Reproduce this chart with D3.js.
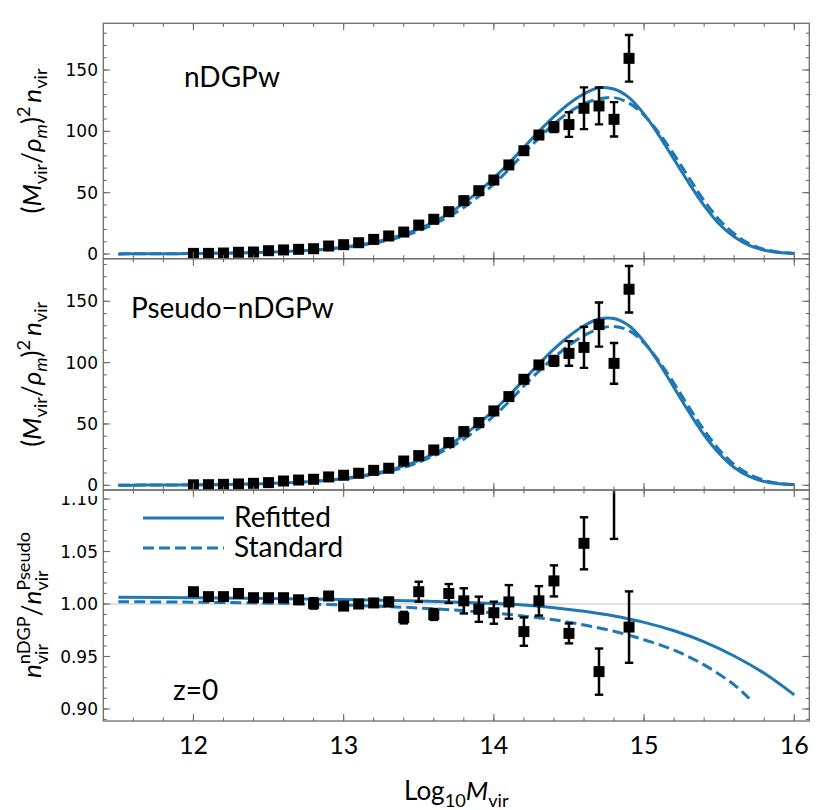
<!DOCTYPE html>
<html><head><meta charset="utf-8">
<script src="https://cdn.jsdelivr.net/npm/d3@7"></script>
<style>body{margin:0;background:#fff} text{font-family:Lato, "DejaVu Sans", sans-serif; fill:#000}</style>
</head><body><svg id="c" width="830" height="810"></svg>
<script>
// ---------------- data ----------------
const massBins = [12.0,12.1,12.2,12.3,12.4,12.5,12.6,12.7,12.8,12.9,13.0,13.1,13.2,13.3,13.4,13.5,13.6,13.7,13.8,13.9,14.0,14.1,14.2,14.3,14.4,14.5,14.6,14.7,14.8,14.9];
const topPoints = [0.5,0.5,0.8,1.4,1.6,2.7,3.3,3.8,4.3,6.5,7.6,9.2,11.9,14.7,17.9,23.6,28.3,34.5,43.5,51.6,60.3,72.6,84.2,97.0,103.5,105.5,118.8,120.7,109.8,159.5];
const topErrors = [0.1,0.1,0.1,0.1,0.2,0.2,0.2,0.3,0.3,0.4,0.4,0.5,0.6,0.7,0.8,1.0,1.1,1.3,1.5,1.7,1.9,2.2,2.6,3.0,4.0,10.0,17.0,15.0,14.0,19.0];
const midPoints = [0.4,0.5,0.8,1.1,1.6,2.2,3.5,4.3,4.9,6.8,8.2,9.8,12.2,13.9,19.8,24.2,28.8,34.8,43.8,51.1,60.6,72.3,86.4,98.1,101.4,107.5,112.4,131.0,99.4,159.8];
const midErrors = [0.1,0.1,0.1,0.1,0.2,0.2,0.2,0.3,0.3,0.4,0.4,0.5,0.6,0.7,0.8,1.0,1.1,1.3,1.5,1.7,1.9,2.2,2.6,3.0,4.0,10.0,16.7,18.0,16.6,19.0];
const ratioPoints = [1.0117,1.007,1.007,1.010,1.006,1.006,1.006,1.004,1.0006,1.0076,0.998,1.000,1.001,1.002,0.987,1.0117,0.990,1.010,1.003,0.995,0.9917,1.002,0.9737,1.003,1.022,0.972,1.0578,0.9356,1.12,0.978];
const ratioErrors = [0.002,0.002,0.002,0.002,0.002,0.002,0.003,0.003,0.005,0.003,0.003,0.003,0.003,0.004,0.0055,0.0095,0.0052,0.009,0.012,0.012,0.0105,0.016,0.0135,0.014,0.0148,0.0095,0.0248,0.022,0.058,0.034];

const curveX = [11.5,11.6,11.7,11.8,11.9,12.0,12.1,12.2,12.3,12.4,12.5,12.6,12.7,12.8,12.9,13.0,13.1,13.2,13.3,13.4,13.5,13.6,13.7,13.8,13.9,14.0,14.1,14.2,14.3,14.4,14.5,14.6,14.7,14.8,14.9,15.0,15.1,15.2,15.3,15.4,15.5,15.6,15.7,15.8,15.9,16.0];
const topRefitted = [0.10,0.14,0.18,0.23,0.30,0.40,0.52,0.68,0.90,1.15,1.50,1.95,2.55,3.30,4.30,5.60,7.30,9.50,12.4,16.0,20.5,26.0,33.0,41.5,51.0,62.0,74.0,87.0,100.0,112.0,122.5,130.5,135.5,134.5,127.5,114.0,96.5,77.0,57.5,39.5,24.5,14.0,7.0,3.0,1.2,0.4];
const topStandard = [0.10,0.13,0.17,0.22,0.28,0.37,0.48,0.63,0.83,1.08,1.40,1.82,2.38,3.10,4.05,5.25,6.80,8.80,11.3,14.6,19.0,24.2,30.5,38.0,47.0,57.0,69.0,82.0,94.5,106.0,115.5,122.5,126.5,127.5,123.0,113.0,98.5,81.0,62.0,43.5,28.0,16.5,8.5,3.8,1.5,0.5];
const midRefitted = [0.10,0.14,0.18,0.23,0.30,0.40,0.52,0.68,0.90,1.15,1.50,1.95,2.55,3.30,4.30,5.60,7.30,9.50,12.3,15.8,20.2,25.6,32.5,41.0,50.5,61.0,73.0,86.0,99.0,111.0,121.5,130.0,135.5,136.0,130.0,117.0,99.5,79.5,59.5,41.0,26.0,14.5,7.2,3.1,1.2,0.4];
const midStandard = [0.10,0.13,0.17,0.22,0.28,0.37,0.48,0.63,0.83,1.08,1.40,1.82,2.38,3.10,4.05,5.25,6.80,8.80,11.3,14.5,18.8,24.0,30.2,37.6,46.5,56.5,68.0,81.0,93.0,104.0,114.0,122.0,127.5,129.5,126.0,116.0,101.0,83.0,63.5,45.0,29.0,17.0,9.0,4.0,1.6,0.6];

const ratioCurveX = [11.5,12.0,12.5,13.0,13.5,14.0,14.2,14.4,14.6,14.8,15.0,15.2,15.4,15.6,15.8,16.0];
const ratioRefitted = [1.0065,1.0060,1.0052,1.0042,1.0028,1.0005,0.9990,0.9965,0.9930,0.9885,0.9825,0.9745,0.9640,0.9505,0.9340,0.9135];
const ratioStandardX = [11.5,12.0,12.5,13.0,13.5,14.0,14.2,14.4,14.6,14.8,15.0,15.2,15.4,15.6,15.7];
const ratioStandard = [1.0022,1.0017,1.0008,0.9990,0.9962,0.9915,0.9885,0.9850,0.9800,0.9740,0.9660,0.9560,0.9420,0.9230,0.9100];

const xTicks = [12,13,14,15,16];
const nTicks = [0,50,100,150];
const ratioTicks = [0.90,0.95,1.00,1.05,1.10];
const panelLabels = ["nDGPw","Pseudo\u2212nDGPw"];
const legendLabels = ["Refitted","Standard"];
const redshiftLabel = "z=0";

// ---------------- layout ----------------
const BLUE = "#1f77b4", FRAME = "#6e6e6e";
const L = 103.3, R = 809.3;
const panels = [
  {top:23.3, bot:258.7, domain:[-3.83,188.07]},
  {top:258.7, bot:490, domain:[-3.83,184.7]},
  {top:490, bot:721, domain:[0.88857,1.10857]}
];
const svg = d3.select("#c");
const x = d3.scaleLinear().domain([11.4,16.1]).range([L,R]);
panels.forEach(p => p.y = d3.scaleLinear().domain(p.domain).range([p.bot,p.top]));

const defs = svg.append("defs");
panels.forEach((p,i) => {
  defs.append("clipPath").attr("id","clip"+i).append("rect")
    .attr("x",L).attr("y",p.top).attr("width",R-L).attr("height",p.bot-p.top);
});
defs.append("clipPath").attr("id","lblclip").append("rect")
  .attr("x",0).attr("y",496).attr("width",103).attr("height",300);

// reference line at 1
const P2 = panels[2];
svg.append("line").attr("x1",L).attr("x2",R).attr("y1",P2.y(1)).attr("y2",P2.y(1))
  .attr("stroke","#d8d8d8").attr("stroke-width",1.6);

const line = (xs, ys, ysc) => d3.line().curve(d3.curveCatmullRom.alpha(0.5))
  .x((d,i)=>x(xs[i])).y(d=>ysc(d))(ys);

function drawCurves(i, solid, dashed, xsS, xsD) {
  const p = panels[i];
  const g = svg.append("g").attr("clip-path",`url(#clip${i})`);
  g.append("path").attr("d",line(xsS,solid,p.y)).attr("fill","none").attr("stroke",BLUE).attr("stroke-width",3);
  g.append("path").attr("d",line(xsD,dashed,p.y)).attr("fill","none").attr("stroke",BLUE).attr("stroke-width",3)
    .attr("stroke-dasharray","11,5");
}
drawCurves(0, topRefitted, topStandard, curveX, curveX);
drawCurves(1, midRefitted, midStandard, curveX, curveX);
drawCurves(2, ratioRefitted, ratioStandard, ratioCurveX, ratioStandardX);

function drawPoints(i, vals, errs) {
  const p = panels[i];
  const g = svg.append("g").attr("clip-path",`url(#clip${i})`);
  massBins.forEach((m,k) => {
    const cx = x(m), y0 = p.y(vals[k]-errs[k]), y1 = p.y(vals[k]+errs[k]);
    g.append("line").attr("x1",cx).attr("x2",cx).attr("y1",y0).attr("y2",y1).attr("stroke","#000").attr("stroke-width",2.5);
    [y0,y1].forEach(yy => g.append("line").attr("x1",cx-4.2).attr("x2",cx+4.2).attr("y1",yy).attr("y2",yy).attr("stroke","#000").attr("stroke-width",2.4));
  });
  g.selectAll("rect.pt").data(massBins).enter().append("rect")
    .attr("x",d=>x(d)-5.5).attr("y",(d,k)=>p.y(vals[k])-5.5).attr("width",11).attr("height",11).attr("fill","#000");
}
drawPoints(0, topPoints, topErrors);
drawPoints(1, midPoints, midErrors);
drawPoints(2, ratioPoints, ratioErrors);

// frames & ticks
const xMinor = d3.range(11.6, 16.05, 0.2);
panels.forEach((p,i) => {
  svg.append("rect").attr("x",L).attr("y",p.top).attr("width",R-L).attr("height",p.bot-p.top)
    .attr("fill","none").attr("stroke",FRAME).attr("stroke-width",1.3);
  const tg = svg.append("g").attr("stroke",FRAME).attr("stroke-width",1.1);
  const tick = (x1,y1,x2,y2)=>tg.append("line").attr("x1",x1).attr("y1",y1).attr("x2",x2).attr("y2",y2);
  xMinor.forEach(v => { const X=x(v); tick(X,p.bot,X,p.bot-3.5); tick(X,p.top,X,p.top+3.5); });
  xTicks.forEach(v => { const X=x(v); tick(X,p.bot,X,p.bot-7); tick(X,p.top,X,p.top+7); });
  let major, minor;
  if (i<2) { major = nTicks; minor = d3.range(0,p.domain[1],10); }
  else { major = ratioTicks; minor = d3.range(89,111).map(v=>v/100); }
  minor.forEach(v => { const Y=p.y(v); tick(L,Y,L+3.5,Y); tick(R,Y,R-3.5,Y); });
  major.forEach(v => { const Y=p.y(v); tick(L,Y,L+7,Y); tick(R,Y,R-7,Y); });
  const lg = svg.append("g");
  if (i===2) lg.attr("clip-path","url(#lblclip)");
  major.forEach(v => lg.append("text").attr("x",98).attr("y",p.y(v)).attr("dy","0.36em")
    .attr("text-anchor","end").style("font-family","'DejaVu Sans'").style("font-size","17px")
    .text(i<2 ? d3.format("d")(v) : d3.format(".2f")(v)));
});
xTicks.forEach(v => svg.append("text").attr("x",x(v)).attr("y",754).attr("text-anchor","middle")
  .style("font-size","25px").text(v));

// rich text helper
function rich(x0, y0, rot, size, parts) {
  const g = svg.append("g").attr("transform",`translate(${x0},${y0}) rotate(${rot})`);
  let cx = 0;
  const mk = (q) => {
    const t = g.append("text").attr("x",cx).attr("y",(q.dy||0)*size)
      .style("font-size",size*(q.s||1)+"px").style("font-style",q.it?"italic":"normal").text(q.t);
    return t.node().getComputedTextLength();
  };
  parts.forEach(p => {
    if (p.stack) { let w=0; p.stack.forEach(q => { w=Math.max(w,mk(q)); }); cx += w; }
    else cx += mk(p);
    cx += (p.gap||0)*size;
  });
  const shift = -cx/2;
  g.selectAll("text").attr("x",function(){return +this.getAttribute("x")+shift;});
}
const yLabelParts = [{t:"("},{t:"M",it:1},{t:"vir",s:.7,dy:.22},{t:"/"},{t:"\u03c1",it:1},{t:"m",it:1,s:.7,dy:.22},{t:")"},{t:"2",s:.7,dy:-.42,gap:.15},{t:"n",it:1},{t:"vir",s:.7,dy:.22}];
rich(41, (panels[0].top+panels[0].bot)/2, -90, 26, yLabelParts);
rich(41, (panels[1].top+panels[1].bot)/2, -90, 26, yLabelParts);
rich(41, 605, -90, 26, [{t:"n",it:1},{stack:[{t:"nDGP",s:.7,dy:-.42},{t:"vir",s:.7,dy:.25}]},{t:"/"},{t:"n",it:1},{stack:[{t:"Pseudo",s:.7,dy:-.42},{t:"vir",s:.7,dy:.25}]}]);
rich((L+R)/2, 800, 0, 26, [{t:"Log"},{t:"10",s:.7,dy:.25},{t:"M",it:1},{t:"vir",s:.7,dy:.25}]);

// annotations
svg.append("text").attr("x",184).attr("y",87).style("font-size","28px").text(panelLabels[0]);
svg.append("text").attr("x",131).attr("y",318).style("font-size","28px").text(panelLabels[1]);
svg.append("text").attr("x",173).attr("y",700).style("font-size","28px").text(redshiftLabel);
// legend
svg.append("line").attr("x1",143).attr("x2",224).attr("y1",518).attr("y2",518).attr("stroke",BLUE).attr("stroke-width",3);
svg.append("line").attr("x1",143).attr("x2",224).attr("y1",548).attr("y2",548).attr("stroke",BLUE).attr("stroke-width",3).attr("stroke-dasharray","11,5");
svg.append("text").attr("x",234).attr("y",527).style("font-size","28px").text(legendLabels[0]);
svg.append("text").attr("x",234).attr("y",557).style("font-size","28px").text(legendLabels[1]);
</script></body></html>
